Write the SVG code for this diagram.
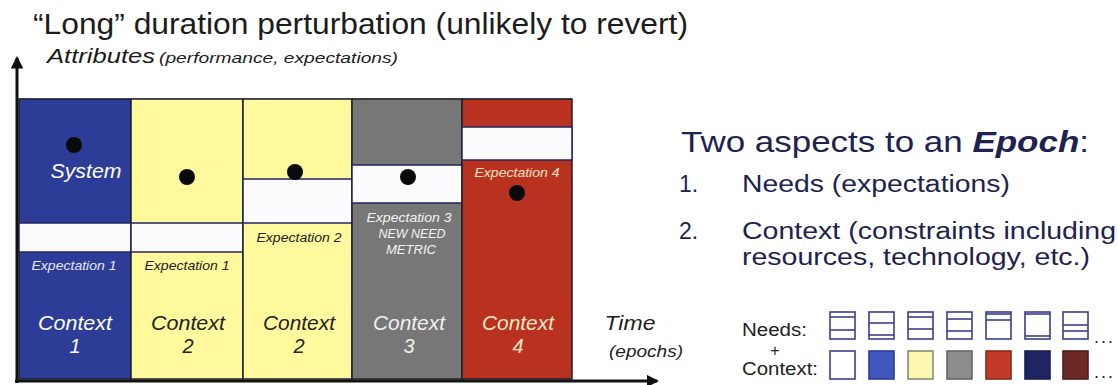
<svg xmlns="http://www.w3.org/2000/svg" width="1118" height="385" viewBox="0 0 1118 385">
  <defs>
    <marker id="arrow" viewBox="0 0 12 12" refX="10" refY="6" markerWidth="4.2" markerHeight="4.2" markerUnits="strokeWidth" orient="auto">
      <path d="M0,0 L12,6 L0,12 Z" fill="#111"/>
    </marker>
  </defs>
  <style>
    .t { font-family: "Liberation Sans", Arial, sans-serif; }
    .i { font-family: "Liberation Sans", Arial, sans-serif; font-style: italic; }
    .cell { stroke: #1e1e2e; stroke-width: 1.5; }
    .band { fill: #fbfbfd; stroke: #23265e; stroke-width: 1.5; }
    .dot { fill: #0a0a0a; }
    .big { font-size: 20px; }
    .exp { font-size: 13px; }
    .navy { fill: #1e2250; }
    .need { fill: #ffffff; stroke: #3b3f8c; stroke-width: 1.6; }
    .needline { stroke: #3b3f8c; stroke-width: 1.6; }
    .ctx { stroke-width: 1.6; }
  </style>

  <rect width="1118" height="385" fill="#ffffff"/>

  <!-- headings -->
  <text class="t" x="33" y="34" font-size="29" fill="#1c1c1c" textLength="655" lengthAdjust="spacingAndGlyphs">“Long” duration perturbation (unlikely to revert)</text>
  <text class="i" x="47" y="63" font-size="21" fill="#1c1c1c" textLength="108" lengthAdjust="spacingAndGlyphs">Attributes</text>
  <text class="i" x="159" y="63" font-size="15" fill="#1c1c1c" textLength="239" lengthAdjust="spacingAndGlyphs">(performance, expectations)</text>

  <!-- chart frame top edge -->
  <line x1="19" y1="99" x2="572" y2="99" stroke="#555" stroke-width="1.2"/>

  <!-- epoch 1: Context 1 -->
  <g id="epoch1">
    <rect class="cell" x="19" y="99" width="112" height="280" fill="#2d3c96"/>
    <rect class="band" x="19" y="223" width="112" height="29"/>
    <circle class="dot" cx="74" cy="145" r="8"/>
    <text class="i big" x="86" y="178" fill="#ffffff" text-anchor="middle" textLength="71" lengthAdjust="spacingAndGlyphs">System</text>
    <text class="i exp" x="74" y="270" fill="#e8e8ff" text-anchor="middle" textLength="85" lengthAdjust="spacingAndGlyphs">Expectation 1</text>
    <text class="i big" x="75" y="330" fill="#ffffff" text-anchor="middle" textLength="74" lengthAdjust="spacingAndGlyphs">Context</text>
    <text class="i big" x="75" y="353" fill="#ffffff" text-anchor="middle">1</text>
  </g>

  <!-- epoch 2: Context 2, same expectation -->
  <g id="epoch2">
    <rect class="cell" x="131" y="99" width="112" height="280" fill="#fdf99c"/>
    <rect class="band" x="131" y="223" width="112" height="29"/>
    <circle class="dot" cx="187" cy="177" r="8"/>
    <text class="i exp" x="187" y="270" fill="#222222" text-anchor="middle" textLength="85" lengthAdjust="spacingAndGlyphs">Expectation 1</text>
    <text class="i big" x="188" y="330" fill="#222222" text-anchor="middle" textLength="74" lengthAdjust="spacingAndGlyphs">Context</text>
    <text class="i big" x="188" y="353" fill="#222222" text-anchor="middle">2</text>
  </g>

  <!-- epoch 3: Context 2, raised expectation -->
  <g id="epoch3">
    <rect class="cell" x="243" y="99" width="109" height="280" fill="#fdf99c"/>
    <rect class="band" x="243" y="179" width="109" height="44"/>
    <circle class="dot" cx="295" cy="172" r="8"/>
    <text class="i exp" x="299" y="242" fill="#222222" text-anchor="middle" textLength="85" lengthAdjust="spacingAndGlyphs">Expectation 2</text>
    <text class="i big" x="299" y="330" fill="#222222" text-anchor="middle" textLength="72" lengthAdjust="spacingAndGlyphs">Context</text>
    <text class="i big" x="299" y="353" fill="#222222" text-anchor="middle">2</text>
  </g>

  <!-- epoch 4: Context 3, new need metric -->
  <g id="epoch4">
    <rect class="cell" x="352" y="99" width="110" height="280" fill="#777777"/>
    <rect class="band" x="352" y="165" width="110" height="38"/>
    <circle class="dot" cx="408" cy="177" r="8"/>
    <text class="i exp" x="409" y="222" fill="#f4f4f4" text-anchor="middle" textLength="85" lengthAdjust="spacingAndGlyphs">Expectation 3</text>
    <text class="i exp" x="412" y="238" fill="#f4f4f4" text-anchor="middle" textLength="67" lengthAdjust="spacingAndGlyphs">NEW NEED</text>
    <text class="i exp" x="411" y="254" fill="#f4f4f4" text-anchor="middle" textLength="50" lengthAdjust="spacingAndGlyphs">METRIC</text>
    <text class="i big" x="409" y="330" fill="#f0f0f0" text-anchor="middle" textLength="72" lengthAdjust="spacingAndGlyphs">Context</text>
    <text class="i big" x="409" y="353" fill="#f0f0f0" text-anchor="middle">3</text>
  </g>

  <!-- epoch 5: Context 4 -->
  <g id="epoch5">
    <rect class="cell" x="462" y="99" width="110" height="280" fill="#b9321f"/>
    <rect class="band" x="462" y="127" width="110" height="33"/>
    <circle class="dot" cx="517" cy="193" r="8"/>
    <text class="i exp" x="517" y="177" fill="#f6e6c6" text-anchor="middle" textLength="85" lengthAdjust="spacingAndGlyphs">Expectation 4</text>
    <text class="i big" x="518" y="330" fill="#f6e6c6" text-anchor="middle" textLength="72" lengthAdjust="spacingAndGlyphs">Context</text>
    <text class="i big" x="518" y="353" fill="#f6e6c6" text-anchor="middle">4</text>
  </g>

  <!-- axes -->
  <g id="axes">
    <line x1="17" y1="383" x2="17" y2="58" stroke="#111" stroke-width="3" marker-end="url(#arrow)"/>
    <line x1="15" y1="381" x2="657" y2="381" stroke="#111" stroke-width="3" marker-end="url(#arrow)"/>
  </g>
  <text class="i" x="630" y="330" font-size="21" fill="#222" text-anchor="middle" textLength="51" lengthAdjust="spacingAndGlyphs">Time</text>
  <text class="i" x="646" y="357" font-size="16" fill="#222" text-anchor="middle" textLength="74" lengthAdjust="spacingAndGlyphs">(epochs)</text>

  <!-- epoch definition -->
  <g id="aspects">
    <text class="t navy" x="681" y="152" font-size="30" textLength="408" lengthAdjust="spacingAndGlyphs">Two aspects to an <tspan font-weight="bold" font-style="italic">Epoch</tspan>:</text>
    <text class="t navy" x="679" y="192" font-size="23">1.</text>
    <text class="t navy" x="742" y="192" font-size="23" textLength="268" lengthAdjust="spacingAndGlyphs">Needs (expectations)</text>
    <text class="t navy" x="679" y="239" font-size="23">2.</text>
    <text class="t navy" x="742" y="239" font-size="23" textLength="374" lengthAdjust="spacingAndGlyphs">Context (constraints including</text>
    <text class="t navy" x="742" y="265" font-size="23" textLength="348" lengthAdjust="spacingAndGlyphs">resources, technology, etc.)</text>
  </g>

  <!-- legend: needs over contexts -->
  <g id="legend">
    <text class="t" x="742" y="336" font-size="18" fill="#222" textLength="65" lengthAdjust="spacingAndGlyphs">Needs:</text>
    <text class="t" x="775" y="356" font-size="16" fill="#222" text-anchor="middle">+</text>
    <text class="t" x="742" y="375" font-size="18" fill="#222" textLength="76" lengthAdjust="spacingAndGlyphs">Context:</text>

    <rect class="need" x="830" y="312" width="25" height="27"/>
    <line class="needline" x1="830" y1="317" x2="855" y2="317"/>
    <line class="needline" x1="830" y1="330" x2="855" y2="330"/>

    <rect class="need" x="869" y="312" width="25" height="27"/>
    <line class="needline" x1="869" y1="323" x2="894" y2="323"/>
    <line class="needline" x1="869" y1="335" x2="894" y2="335"/>

    <rect class="need" x="908" y="312" width="25" height="27"/>
    <line class="needline" x1="908" y1="317" x2="933" y2="317"/>
    <line class="needline" x1="908" y1="329" x2="933" y2="329"/>

    <rect class="need" x="947" y="312" width="25" height="27"/>
    <line class="needline" x1="947" y1="319" x2="972" y2="319"/>
    <line class="needline" x1="947" y1="331" x2="972" y2="331"/>

    <rect class="need" x="986" y="312" width="25" height="27"/>
    <line class="needline" x1="986" y1="314" x2="1011" y2="314"/>
    <line class="needline" x1="986" y1="320" x2="1011" y2="320"/>

    <rect class="need" x="1025" y="312" width="25" height="27"/>
    <line class="needline" x1="1025" y1="314" x2="1050" y2="314"/>
    <line class="needline" x1="1025" y1="336" x2="1050" y2="336"/>

    <rect class="need" x="1063" y="312" width="25" height="27"/>
    <line class="needline" x1="1063" y1="325" x2="1088" y2="325"/>
    <line class="needline" x1="1063" y1="331" x2="1088" y2="331"/>

    <rect class="ctx" x="830" y="351" width="25" height="28" fill="#ffffff" stroke="#3b3f8c"/>
    <rect class="ctx" x="869" y="351" width="25" height="28" fill="#4057bd" stroke="#2e3b91"/>
    <rect class="ctx" x="908" y="351" width="25" height="28" fill="#fbf7b0" stroke="#8a8a70"/>
    <rect class="ctx" x="947" y="351" width="25" height="28" fill="#8c8c8c" stroke="#666"/>
    <rect class="ctx" x="986" y="351" width="25" height="28" fill="#c23a28" stroke="#8a2a1c"/>
    <rect class="ctx" x="1025" y="351" width="25" height="28" fill="#1f2563" stroke="#1a1f50"/>
    <rect class="ctx" x="1063" y="351" width="25" height="28" fill="#6b2a25" stroke="#4e1e1a"/>

    <text class="t" x="1094" y="343" font-size="18" fill="#222" letter-spacing="2">...</text>
    <text class="t" x="1094" y="378" font-size="18" fill="#222" letter-spacing="2">...</text>
  </g>
</svg>
